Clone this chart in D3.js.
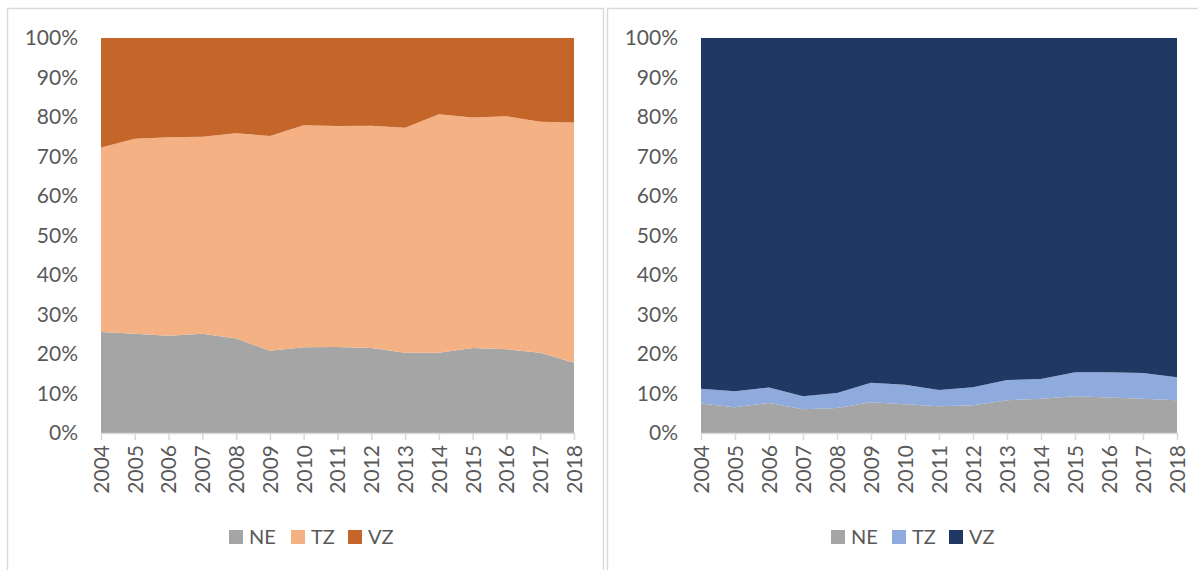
<!DOCTYPE html>
<html>
<head>
<meta charset="utf-8">
<script src="https://cdn.jsdelivr.net/npm/d3@7"></script>
<style>
  body { margin: 0; background: #fff; }
  svg { display: block; font-family: Lato, "Open Sans", sans-serif; }
</style>
</head>
<body>
<svg id="chart" width="1198" height="570"></svg>
<script>
// years on the x axis
var years = [2004, 2005, 2006, 2007, 2008, 2009, 2010, 2011, 2012, 2013, 2014, 2015, 2016, 2017, 2018];
var seriesKeys = ["NE", "TZ", "VZ"];
var yTicks = [0, 0.1, 0.2, 0.3, 0.4, 0.5, 0.6, 0.7, 0.8, 0.9, 1];

// left panel shares (%)
var leftNE = [25.6, 25.1, 24.6, 25.1, 23.9, 20.8, 21.7, 21.8, 21.5, 20.3, 20.3, 21.5, 21.2, 20.3, 17.8];
var leftTZ = [46.7, 49.4, 50.3, 49.9, 52.0, 54.4, 56.2, 55.9, 56.3, 57.0, 60.4, 58.4, 59.0, 58.5, 60.8];
var leftVZ = [27.7, 25.5, 25.1, 25.0, 24.1, 24.8, 22.1, 22.3, 22.2, 22.7, 19.3, 20.1, 19.8, 21.2, 21.4];

// right panel shares (%)
var rightNE = [7.5, 6.5, 7.6, 6.0, 6.3, 7.8, 7.3, 6.8, 7.0, 8.3, 8.7, 9.3, 9.0, 8.7, 8.3];
var rightTZ = [3.7, 4.1, 3.9, 3.3, 3.8, 4.9, 4.9, 4.1, 4.6, 5.1, 5.0, 6.1, 6.4, 6.5, 5.8];
var rightVZ = [88.8, 89.4, 88.5, 90.7, 89.9, 87.3, 87.8, 89.1, 88.4, 86.6, 86.3, 84.6, 84.6, 84.8, 85.9];

var leftColors = ["#A5A5A5", "#F4B183", "#C4652A"];
var rightColors = ["#A5A5A5", "#8FAADC", "#203864"];

var svg = d3.select("#chart");

// panel frames
svg.append("rect").attr("x", 7.5).attr("y", 8.5).attr("width", 596).attr("height", 580)
  .attr("fill", "none").attr("stroke", "#D9D9D9").attr("stroke-width", 1.5);
svg.append("rect").attr("x", 607.5).attr("y", 8.5).attr("width", 600).attr("height", 580)
  .attr("fill", "none").attr("stroke", "#D9D9D9").attr("stroke-width", 1.5);

function drawPanel(opts) {
  var rows = years.map(function(y, i) {
    return { year: y, NE: opts.ne[i], TZ: opts.tz[i], VZ: opts.vz[i] };
  });

  var stack = d3.stack().keys(seriesKeys).offset(d3.stackOffsetExpand);
  var layers = stack(rows);

  var x = d3.scaleLinear().domain([years[0], years[years.length - 1]]).range([opts.x0, opts.x1]);
  var y = d3.scaleLinear().domain([0, 1]).range([433, 38]);

  var area = d3.area()
    .x(function(d) { return x(d.data.year); })
    .y0(function(d) { return y(d[0]); })
    .y1(function(d) { return y(d[1]); });

  var g = svg.append("g");

  g.selectAll("path.layer")
    .data(layers)
    .enter().append("path")
    .attr("class", "layer")
    .attr("d", area)
    .attr("fill", function(d, i) { return opts.colors[i]; });

  // y axis labels (no line)
  var yAxis = d3.axisLeft(y).tickValues(yTicks).tickFormat(d3.format(".0%")).tickSize(0).tickPadding(0);
  var ya = g.append("g").attr("transform", "translate(" + (opts.x0 - 23) + ",0)").call(yAxis);
  ya.select(".domain").remove();
  ya.selectAll("text").attr("font-size", 21).attr("fill", "#595959").attr("font-family", "Lato, 'Open Sans', sans-serif");

  // x axis
  var xAxis = d3.axisBottom(x).tickValues(years).tickFormat(d3.format("d")).tickSize(7).tickSizeOuter(0);
  var xa = g.append("g").attr("transform", "translate(0,433)").call(xAxis);
  xa.select(".domain").attr("stroke", "#D9D9D9").attr("stroke-width", 1.5);
  xa.selectAll(".tick line").attr("stroke", "#D9D9D9").attr("stroke-width", 1.5);
  xa.selectAll("text")
    .attr("font-size", 21).attr("fill", "#595959")
    .attr("font-family", "Lato, 'Open Sans', sans-serif")
    .attr("transform", "rotate(-90)")
    .attr("text-anchor", "end")
    .attr("x", -12).attr("y", 0).attr("dy", "0.35em");

  // legend
  var lg = g.append("g");
  var pos = opts.legendX;
  seriesKeys.forEach(function(k, i) {
    lg.append("rect").attr("x", pos[i]).attr("y", 530).attr("width", 14).attr("height", 14)
      .attr("fill", opts.colors[i]);
    lg.append("text").attr("x", pos[i] + 20).attr("y", 544)
      .attr("font-size", 20).attr("fill", "#595959").text(k);
  });
}

drawPanel({ ne: leftNE, tz: leftTZ, vz: leftVZ, colors: leftColors, x0: 101, x1: 574, legendX: [229, 291, 348] });
drawPanel({ ne: rightNE, tz: rightTZ, vz: rightVZ, colors: rightColors, x0: 701, x1: 1177, legendX: [831, 892, 949] });
</script>
</body>
</html>
